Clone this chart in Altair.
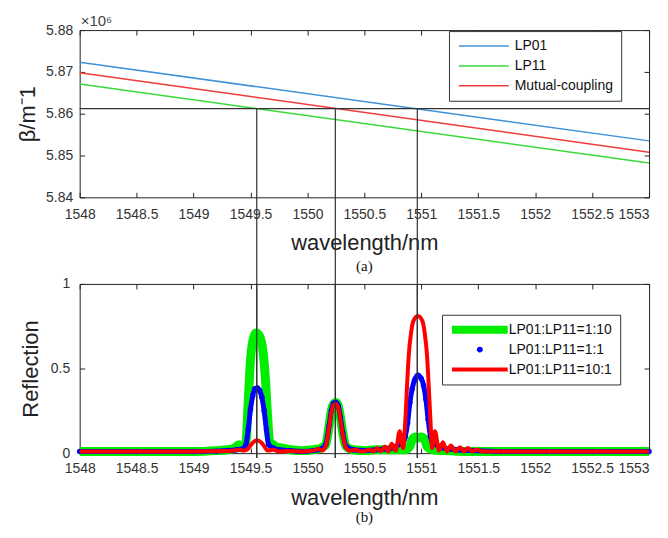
import altair as alt
import pandas as pd

# ---------------- top panel: propagation constant (units of 1e6 m^-1)
top_wl = [1548.0, 1553.0]
beta_lp01 = [5.8723, 5.8535]
beta_lp11 = [5.8671, 5.8482]
beta_mutual = [5.8698, 5.8508]
top_series = ["LP01", "LP11", "Mutual-coupling"]
top_colors = ["#3f92d8", "#3ad93a", "#f03c3c"]

match_beta = [5.8612]
match_wl = [1549.555, 1550.245, 1550.965]

x_ticks = [1548, 1548.5, 1549, 1549.5, 1550, 1550.5, 1551, 1551.5, 1552, 1552.5, 1553]
beta_ticks = [5.84, 5.85, 5.86, 5.87, 5.88]
refl_ticks = [0, 0.5, 1]

# ---------------- bottom panel: reflection spectra
wl_g = [1548.00, 1548.50, 1549.00, 1549.20, 1549.30, 1549.36, 1549.40, 1549.43, 1549.46, 1549.48,
        1549.50, 1549.52, 1549.55, 1549.58, 1549.61, 1549.63, 1549.65, 1549.67, 1549.70, 1549.73,
        1549.78, 1549.85, 1549.95, 1550.05, 1550.12, 1550.16, 1550.19, 1550.21, 1550.23, 1550.25,
        1550.27, 1550.29, 1550.31, 1550.34, 1550.40, 1550.50, 1550.60, 1550.70, 1550.80, 1550.86,
        1550.90, 1550.92, 1550.95, 1550.97, 1551.00, 1551.03, 1551.05, 1551.10, 1551.20, 1551.40,
        1552.00, 1553.00]
refl_g = [0.01, 0.01, 0.01, 0.015, 0.02, 0.03, 0.05, 0.03, 0.06, 0.30,
          0.55, 0.66, 0.71, 0.69, 0.60, 0.45, 0.22, 0.06, 0.05, 0.035,
          0.03, 0.02, 0.015, 0.02, 0.03, 0.05, 0.16, 0.25, 0.29, 0.30,
          0.28, 0.21, 0.12, 0.04, 0.02, 0.015, 0.02, 0.02, 0.02, 0.02,
          0.04, 0.08, 0.095, 0.09, 0.095, 0.08, 0.04, 0.02, 0.015, 0.01,
          0.01, 0.01]

wl_b = [1548.00, 1548.50, 1549.00, 1549.20, 1549.30, 1549.38, 1549.43, 1549.46, 1549.48, 1549.50,
        1549.52, 1549.54, 1549.56, 1549.58, 1549.60, 1549.62, 1549.64, 1549.66, 1549.70, 1549.75,
        1549.85, 1549.95, 1550.05, 1550.12, 1550.16, 1550.19, 1550.21, 1550.23, 1550.25, 1550.27,
        1550.29, 1550.31, 1550.34, 1550.40, 1550.50, 1550.60, 1550.68, 1550.74, 1550.80, 1550.84,
        1550.86, 1550.88, 1550.90, 1550.92, 1550.94, 1550.97, 1551.00, 1551.02, 1551.04, 1551.06,
        1551.08, 1551.10, 1551.13, 1551.20, 1551.30, 1551.45, 1551.70, 1552.10, 1552.50, 1553.00]
refl_b = [0.01, 0.01, 0.01, 0.012, 0.015, 0.02, 0.025, 0.05, 0.14, 0.26,
          0.34, 0.38, 0.385, 0.37, 0.33, 0.25, 0.14, 0.05, 0.03, 0.02,
          0.015, 0.01, 0.015, 0.025, 0.05, 0.16, 0.25, 0.295, 0.30, 0.28,
          0.21, 0.12, 0.04, 0.02, 0.015, 0.02, 0.025, 0.03, 0.05, 0.06,
          0.10, 0.18, 0.30, 0.38, 0.43, 0.46, 0.44, 0.40, 0.32, 0.20,
          0.10, 0.06, 0.05, 0.03, 0.02, 0.015, 0.01, 0.01, 0.01, 0.01]

wl_r = [1548.00, 1548.50, 1549.00, 1549.30, 1549.40, 1549.44, 1549.47, 1549.50, 1549.53, 1549.56,
        1549.59, 1549.62, 1549.65, 1549.70, 1549.75, 1549.85, 1549.95, 1550.05, 1550.10, 1550.13,
        1550.16, 1550.19, 1550.21, 1550.23, 1550.25, 1550.27, 1550.29, 1550.31, 1550.34, 1550.37,
        1550.42, 1550.47, 1550.52, 1550.55, 1550.58, 1550.61, 1550.645, 1550.68, 1550.71, 1550.74,
        1550.775, 1550.81, 1550.84, 1550.86, 1550.875, 1550.89, 1550.91, 1550.93, 1550.97, 1551.01,
        1551.03, 1551.05, 1551.065, 1551.08, 1551.095, 1551.12, 1551.155, 1551.19, 1551.225, 1551.26,
        1551.30, 1551.34, 1551.375, 1551.41, 1551.445, 1551.48, 1551.55, 1552.00, 1553.00]
refl_r = [0.01, 0.01, 0.01, 0.012, 0.02, 0.015, 0.02, 0.045, 0.068, 0.075,
          0.066, 0.042, 0.015, 0.02, 0.01, 0.012, 0.01, 0.015, 0.025, 0.015,
          0.04, 0.15, 0.24, 0.285, 0.29, 0.27, 0.20, 0.11, 0.03, 0.015,
          0.02, 0.01, 0.015, 0.02, 0.01, 0.03, 0.01, 0.04, 0.01, 0.055,
          0.015, 0.13, 0.03, 0.20, 0.40, 0.58, 0.71, 0.78, 0.81, 0.78,
          0.71, 0.58, 0.40, 0.20, 0.03, 0.13, 0.015, 0.065, 0.01, 0.045,
          0.01, 0.035, 0.01, 0.03, 0.01, 0.02, 0.01, 0.01, 0.01]

bot_series = ["LP01:LP11=1:10", "LP01:LP11=1:1", "LP01:LP11=10:1"]
bot_colors = ["#00ee00", "#0000ff", "#ff0000"]
# legend glyphs (symbol size 100 -> 1 unit = 5 px)
bot_shapes = ["M-1,-0.8L10.2,-0.8L10.2,0.8L-1,0.8Z",
              "M4,0A0.6,0.6,0,1,1,5.2,0A0.6,0.6,0,1,1,4,0Z",
              "M-1,-0.4L10.2,-0.4L10.2,0.4L-1,0.4Z"]
top_symbol = "M-1,0L9,0"

# ---------------- layout constants
W, H1, H2, GAP = 572, 168, 170, 87
FONT = "Liberation Sans"

df_top = pd.DataFrame({
    "wl": top_wl * 3,
    "beta": beta_lp01 + beta_lp11 + beta_mutual,
    "series": [top_series[0]] * 2 + [top_series[1]] * 2 + [top_series[2]] * 2,
})
df_match = pd.DataFrame({"wl": match_wl, "beta": match_beta * len(match_wl)})
df_hline = pd.DataFrame({"beta": match_beta})

df_g = pd.DataFrame({"wl": wl_g, "r": refl_g})
df_b = pd.DataFrame({"wl": wl_b, "r": refl_b, "series": bot_series[1]})
df_r = pd.DataFrame({"wl": wl_r, "r": refl_r})

xscale = alt.Scale(domain=[1548, 1553], nice=False, zero=False)
last_label_align = {"condition": {"test": "datum.value >= 1553", "value": "right"}, "value": "center"}


def x_enc(h, pad, tpad):
    return alt.X("wl:Q", scale=xscale, axis=alt.Axis(
        values=x_ticks, format=".1~f", title="wavelength/nm", ticks=False, domain=False,
        grid=True, gridDash=[5, h - 10], gridColor="#222", gridOpacity=1, gridWidth=1,
        labelPadding=pad, titlePadding=tpad, labelFlush=False, labelAlign=last_label_align))


y_top = alt.Y("beta:Q", scale=alt.Scale(domain=[5.84, 5.88], nice=False, zero=False),
              axis=alt.Axis(values=beta_ticks, format=".2f", title="β/m⁻1", ticks=False,
                            domain=False, grid=True, gridDash=[5, W - 10], gridColor="#222",
                            gridOpacity=1, labelPadding=7, titlePadding=6))

XT = x_enc(H1, 10, 11)
top_lines = alt.Chart(df_top).mark_line(strokeWidth=1.5).encode(
    x=XT, y=y_top,
    color=alt.Color("series:N", scale=alt.Scale(domain=top_series, range=top_colors),
                    legend=alt.Legend(title=None, orient="none", legendX=371, legendY=1,
                                      symbolType=top_symbol, symbolSize=100, symbolStrokeWidth=1.5,
                                      labelFont=FONT, labelFontSize=14, labelColor="#111",
                                      strokeColor="#333", fillColor="white", padding=8,
                                      rowPadding=6, labelOffset=44, cornerRadius=0)),
)
top_hline = alt.Chart(df_hline).mark_rule(color="#333", strokeWidth=1.2).encode(y=alt.Y("beta:Q"))
top_vlines = alt.Chart(df_match).mark_rule(color="#333", strokeWidth=1.2).encode(
    x=alt.X("wl:Q"), y=alt.Y("beta:Q"), y2=alt.value(H1 + GAP + H2 + 5))
top_exp = alt.Chart(pd.DataFrame({"t": ["×10⁶"]})).mark_text(
    align="left", baseline="bottom", font=FONT, fontSize=15, color="#444").encode(
    x=alt.value(1), y=alt.value(-1), text="t:N")
top_tag = alt.Chart(pd.DataFrame({"t": ["(a)"]})).mark_text(
    align="center", baseline="middle", font="Liberation Serif", fontSize=15, color="#111").encode(
    x=alt.value(W / 2), y=alt.value(H1 + 69), text="t:N")

top = alt.layer(top_lines, top_hline, top_vlines, top_exp, top_tag).properties(width=W, height=H1)

y_bot = alt.Y("r:Q", scale=alt.Scale(domain=[0, 1], nice=False),
              axis=alt.Axis(values=refl_ticks, format=".1~f", title="Reflection", ticks=False,
                            domain=False, grid=True, gridDash=[5, W - 10], gridColor="#222",
                            gridOpacity=1, labelPadding=10, titlePadding=8))

XB = x_enc(H2, 8, 13)
g_line = alt.Chart(df_g).mark_line(color=bot_colors[0], strokeWidth=9, interpolate="monotone").encode(
    x=XB, y=y_bot)
b_line = alt.Chart(df_b).mark_line(color=bot_colors[1], strokeWidth=5, interpolate="monotone").encode(
    x=XB, y=y_bot)
b_dots = alt.Chart(df_b).mark_circle(color=bot_colors[1], size=30, opacity=1).encode(
    x=XB, y=y_bot)
bot_legend = alt.Legend(title=None, orient="none", legendX=364, legendY=31, symbolSize=100,
                        symbolStrokeWidth=0, symbolOpacity=1, labelFont=FONT, labelFontSize=14,
                        labelColor="#111", strokeColor="#333", fillColor="white", padding=8,
                        rowPadding=6, labelOffset=45, cornerRadius=0)
legend_layer = alt.Chart(df_b).mark_point(filled=True, size=0).encode(
    x=XB, y=y_bot,
    color=alt.Color("series:N", scale=alt.Scale(domain=bot_series, range=bot_colors), legend=bot_legend),
    shape=alt.Shape("series:N", scale=alt.Scale(domain=bot_series, range=bot_shapes), legend=bot_legend),
)
r_line = alt.Chart(df_r).mark_line(color=bot_colors[2], strokeWidth=4, interpolate="monotone").encode(
    x=XB, y=y_bot)
bot_vlines = alt.Chart(pd.DataFrame({"wl": match_wl})).mark_rule(color="#333", strokeWidth=1.2).encode(
    x=alt.X("wl:Q"), y=alt.value(0), y2=alt.value(H2 + 5))
bot_tag = alt.Chart(pd.DataFrame({"t": ["(b)"]})).mark_text(
    align="center", baseline="middle", font="Liberation Serif", fontSize=15, color="#111").encode(
    x=alt.value(W / 2), y=alt.value(H2 + 64), text="t:N")

bottom = alt.layer(g_line, b_line, b_dots, legend_layer, r_line, bot_vlines, bot_tag).properties(
    width=W, height=H2)

chart = alt.vconcat(top, bottom, spacing=GAP, bounds="flush").resolve_scale(
    color="independent", shape="independent").resolve_legend(
    color="independent", shape="independent").properties(
    padding={"left": 8, "top": 4, "right": -8, "bottom": -1}
).configure_view(stroke="#222", strokeWidth=1).configure_axis(
    labelFont=FONT, labelFontSize=14, labelColor="#333", titleFont=FONT, titleFontSize=22,
    titleFontWeight="normal", titleColor="#222")

chart.save("out.html", embed_options={"renderer": "svg", "actions": False})
